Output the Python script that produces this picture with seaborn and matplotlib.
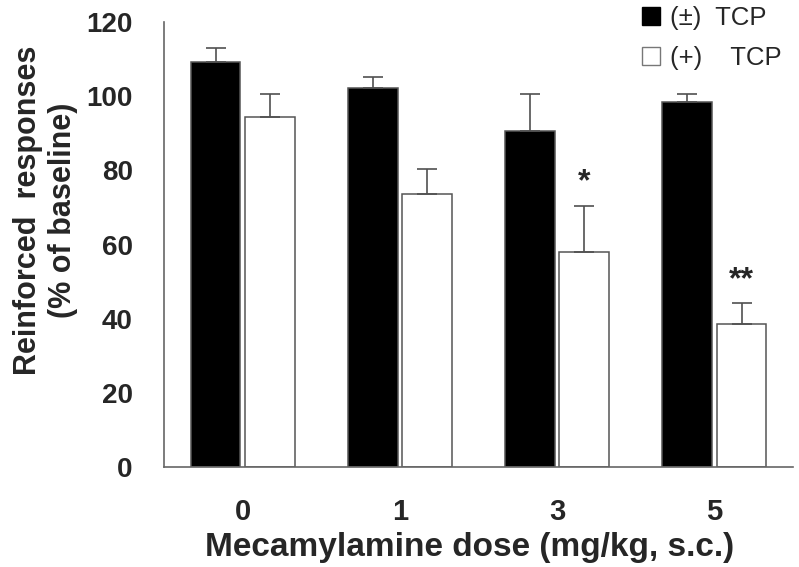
import numpy as np
import pandas as pd
import matplotlib
matplotlib.use('Agg')
import matplotlib.pyplot as plt
import seaborn as sns
from matplotlib.patches import Patch

doses = ['0', '1', '3', '5']
racemic_mean = [109.2, 102.2, 90.6, 98.4]
racemic_sem = [3.7, 3.1, 10.1, 2.2]
plus_mean = [94.4, 73.5, 57.9, 38.6]
plus_sem = [6.2, 7.0, 12.5, 5.5]
groups = ['(±) TCP', '(+) TCP']
stars = ['', '', '*', '**']

sns.set_style('white')
plt.rcParams['font.family'] = ['Liberation Sans', 'DejaVu Sans']

df = pd.DataFrame({
    'dose': doses * 2,
    'value': racemic_mean + plus_mean,
    'sem': racemic_sem + plus_sem,
    'drug': [groups[0]] * 4 + [groups[1]] * 4,
})

fig, ax = plt.subplots(figsize=(7.99, 5.67), dpi=100)
fig.subplots_adjust(left=0.2053, right=0.9925, top=0.961, bottom=0.1764)

sns.barplot(data=df, x='dose', y='value', hue='drug', order=doses, hue_order=groups,
            palette={groups[0]: 'black', groups[1]: 'white'}, width=0.69, gap=0.08,
            errorbar=None, edgecolor='#555555', linewidth=1.1, legend=False, ax=ax)

# one-sided (upper) error bars
for cont, sems in zip(ax.containers, [racemic_sem, plus_sem]):
    for bar, s in zip(cont, sems):
        xc = bar.get_x() + bar.get_width() / 2
        ax.errorbar(xc, bar.get_height(), yerr=[[0], [s]], fmt='none',
                    ecolor='#505050', elinewidth=1.2, capsize=7.2, capthick=1.2)

# significance marks over (+) TCP bars
for bar, s, st in zip(ax.containers[1], plus_sem, stars):
    if st:
        ax.text(bar.get_x() + bar.get_width() / 2, bar.get_height() + s + 2.3, st,
                ha='center', va='bottom', fontsize=23, fontweight='bold')

ax.set_xlim(-0.5, 3.5)
ax.set_ylim(0, 120)
ax.set_yticks(np.arange(0, 121, 20))
for sp in ['top', 'right']:
    ax.spines[sp].set_visible(False)
for sp in ['left', 'bottom']:
    ax.spines[sp].set_color('#666666')
    ax.spines[sp].set_linewidth(1.2)

ax.tick_params(axis='y', direction='out', length=6.5, width=1, color='#666666',
               pad=16, labelsize=20)
ax.tick_params(axis='x', length=0, pad=22, labelsize=21)
for lab in ax.get_xticklabels() + ax.get_yticklabels():
    lab.set_fontweight('bold')

ax.set_xlabel('Mecamylamine dose (mg/kg, s.c.)', fontsize=24, fontweight='bold')
ax.xaxis.set_label_coords(0.485, -0.18)
ax.xaxis.label.set_verticalalignment('center')
ax.set_ylabel('Reinforced  responses\n(% of baseline)', fontsize=22, fontweight='bold',
              linespacing=1.2)
ax.yaxis.set_label_coords(-0.188, 0.577)
ax.yaxis.label.set_verticalalignment('center')

handles = [Patch(facecolor='black', edgecolor='black'),
           Patch(facecolor='white', edgecolor='#777777')]
ax.legend(handles, ['(±)  TCP', '(+)    TCP'], loc='upper left',
          bbox_to_anchor=(0.803, 0.99), bbox_transform=fig.transFigure,
          frameon=False, fontsize=18.5, handlelength=0.7, handleheight=0.7,
          handletextpad=0.4, labelspacing=0.62, borderpad=0, borderaxespad=0)

fig.savefig('out.png', dpi=100)
